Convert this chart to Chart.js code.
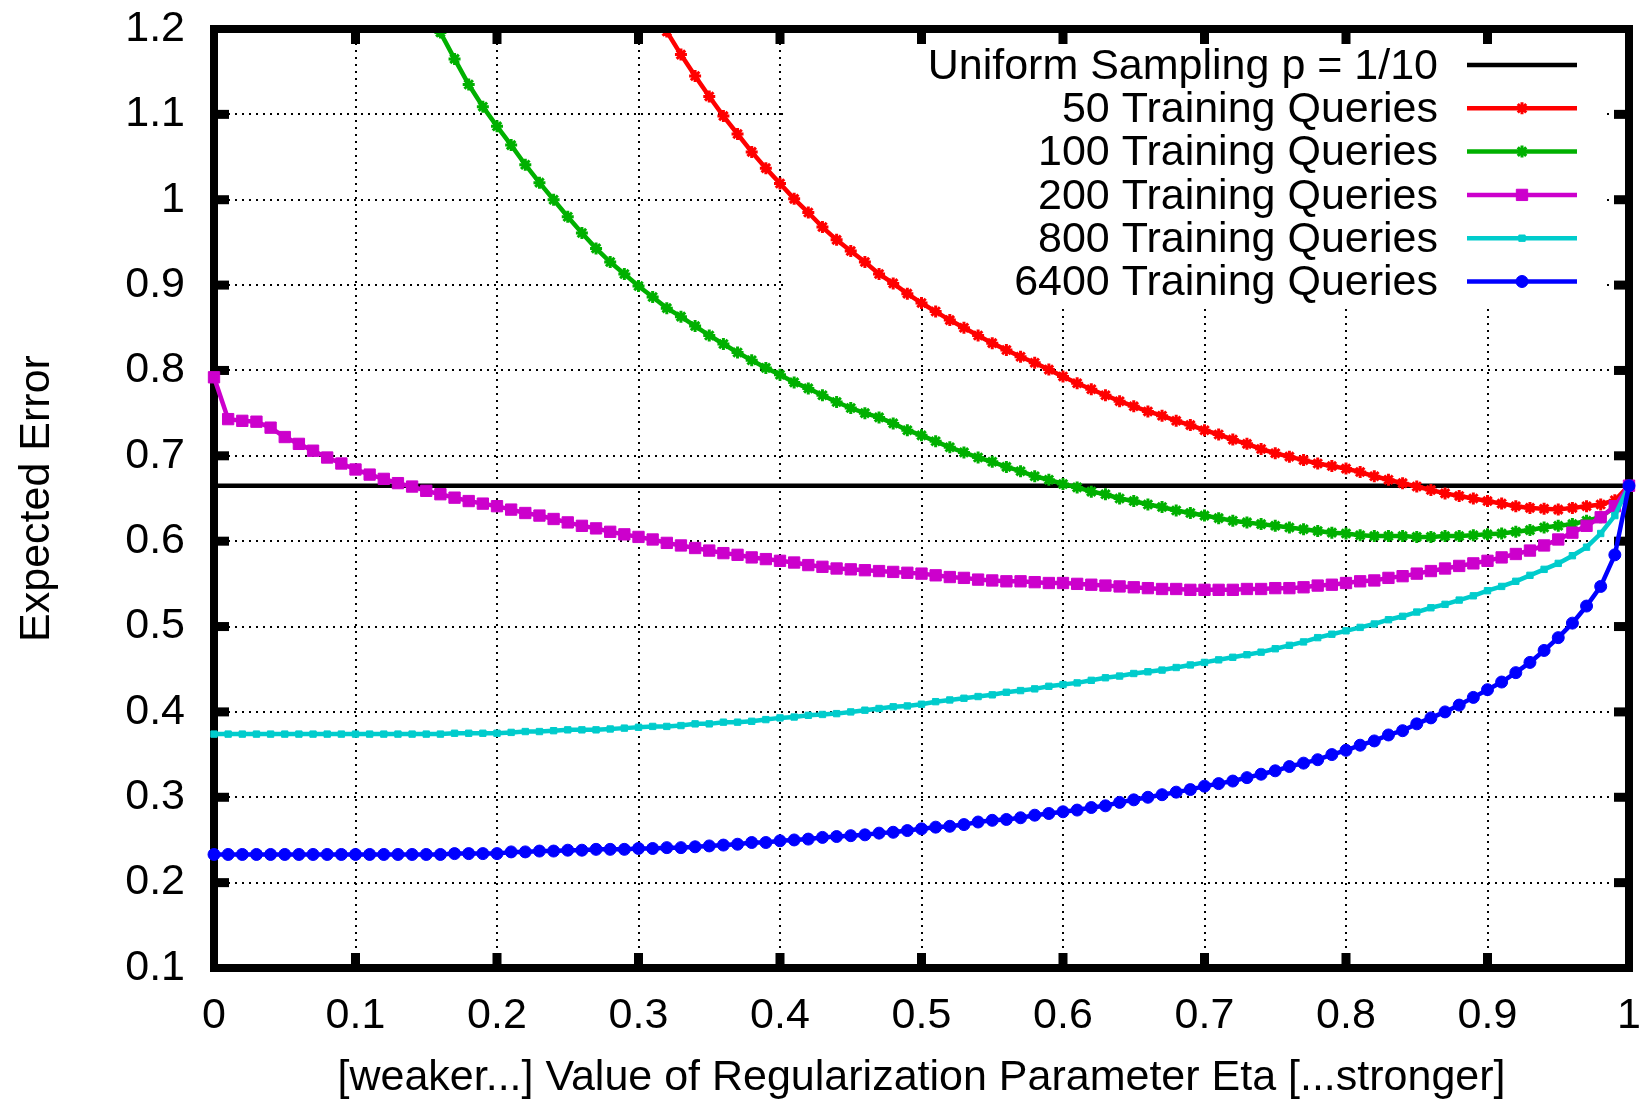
<!DOCTYPE html>
<html>
<head>
<meta charset="utf-8">
<title>Expected Error vs Eta</title>
<script src="https://cdn.jsdelivr.net/npm/chart.js@4.4.0/dist/chart.umd.min.js"></script>
<style>
  html, body { margin: 0; padding: 0; background: #fff; }
  canvas { display: block; }
</style>
</head>
<body>
<canvas id="chart" width="1643" height="1104"></canvas>
<script>
// valores de eta (eixo x), um ponto a cada 0.01
const eta = [
    0.00, 0.01, 0.02, 0.03, 0.04, 0.05, 0.06, 0.07, 0.08, 0.09,
    0.10, 0.11, 0.12, 0.13, 0.14, 0.15, 0.16, 0.17, 0.18, 0.19,
    0.20, 0.21, 0.22, 0.23, 0.24, 0.25, 0.26, 0.27, 0.28, 0.29,
    0.30, 0.31, 0.32, 0.33, 0.34, 0.35, 0.36, 0.37, 0.38, 0.39,
    0.40, 0.41, 0.42, 0.43, 0.44, 0.45, 0.46, 0.47, 0.48, 0.49,
    0.50, 0.51, 0.52, 0.53, 0.54, 0.55, 0.56, 0.57, 0.58, 0.59,
    0.60, 0.61, 0.62, 0.63, 0.64, 0.65, 0.66, 0.67, 0.68, 0.69,
    0.70, 0.71, 0.72, 0.73, 0.74, 0.75, 0.76, 0.77, 0.78, 0.79,
    0.80, 0.81, 0.82, 0.83, 0.84, 0.85, 0.86, 0.87, 0.88, 0.89,
    0.90, 0.91, 0.92, 0.93, 0.94, 0.95, 0.96, 0.97, 0.98, 0.99,
    1.00
];

// linha de referencia (amostragem uniforme)
const uniformEta = [0, 1];
const uniformError = [0.665, 0.665];

const err50 = [
    null, null, null, null, null, null, null, null, null, null,
    null, null, null, null, null, null, null, null, null, null,
    null, null, null, null, null, null, null, null, null, null,
    1.257, 1.226, 1.197, 1.170, 1.145, 1.121, 1.098, 1.077, 1.056, 1.037,
    1.019, 1.001, 0.985, 0.968, 0.953, 0.940, 0.927, 0.913, 0.902, 0.890,
    0.879, 0.869, 0.859, 0.850, 0.841, 0.832, 0.824, 0.816, 0.809, 0.801,
    0.793, 0.785, 0.778, 0.771, 0.764, 0.758, 0.752, 0.747, 0.741, 0.736,
    0.730, 0.725, 0.719, 0.714, 0.708, 0.703, 0.699, 0.695, 0.691, 0.688,
    0.685, 0.681, 0.676, 0.672, 0.668, 0.664, 0.660, 0.656, 0.653, 0.650,
    0.647, 0.644, 0.641, 0.639, 0.638, 0.637, 0.639, 0.641, 0.643, 0.648,
    0.665
];

const err100 = [
    null, null, null, null, null, null, null, null, null, null,
    null, null, null, null, null, 1.230, 1.196, 1.165, 1.135, 1.109,
    1.086, 1.064, 1.041, 1.020, 1.000, 0.980, 0.961, 0.943, 0.927, 0.913,
    0.899, 0.886, 0.873, 0.863, 0.852, 0.841, 0.831, 0.821, 0.812, 0.803,
    0.795, 0.786, 0.779, 0.771, 0.763, 0.756, 0.750, 0.745, 0.738, 0.730,
    0.724, 0.717, 0.710, 0.704, 0.698, 0.693, 0.687, 0.682, 0.676, 0.672,
    0.667, 0.663, 0.658, 0.655, 0.650, 0.647, 0.643, 0.640, 0.636, 0.633,
    0.630, 0.627, 0.624, 0.622, 0.620, 0.618, 0.616, 0.614, 0.612, 0.610,
    0.609, 0.607, 0.606, 0.606, 0.606, 0.605, 0.605, 0.606, 0.606, 0.607,
    0.608, 0.609, 0.611, 0.613, 0.616, 0.618, 0.620, 0.624, 0.628, 0.640,
    0.665
];

const err200 = [
    0.792, 0.743, 0.741, 0.740, 0.733, 0.722, 0.714, 0.706, 0.698, 0.691,
    0.684, 0.678, 0.673, 0.668, 0.664, 0.659, 0.655, 0.651, 0.647, 0.644,
    0.641, 0.637, 0.633, 0.630, 0.626, 0.622, 0.618, 0.615, 0.611, 0.608,
    0.605, 0.602, 0.598, 0.595, 0.592, 0.589, 0.586, 0.584, 0.581, 0.579,
    0.577, 0.575, 0.572, 0.570, 0.568, 0.567, 0.566, 0.565, 0.564, 0.563,
    0.562, 0.560, 0.558, 0.557, 0.555, 0.554, 0.553, 0.553, 0.552, 0.551,
    0.551, 0.550, 0.549, 0.548, 0.547, 0.546, 0.545, 0.544, 0.544, 0.543,
    0.543, 0.543, 0.543, 0.544, 0.544, 0.545, 0.545, 0.546, 0.548, 0.549,
    0.551, 0.553, 0.554, 0.557, 0.559, 0.562, 0.565, 0.568, 0.571, 0.574,
    0.577, 0.581, 0.585, 0.589, 0.595, 0.602, 0.610, 0.618, 0.628, 0.641,
    0.665
];

const err800 = [
    0.374, 0.374, 0.374, 0.374, 0.374, 0.374, 0.374, 0.374, 0.374, 0.374,
    0.374, 0.374, 0.374, 0.374, 0.374, 0.374, 0.374, 0.375, 0.375, 0.375,
    0.375, 0.376, 0.377, 0.377, 0.378, 0.379, 0.379, 0.379, 0.380, 0.381,
    0.382, 0.383, 0.383, 0.384, 0.386, 0.386, 0.388, 0.388, 0.389, 0.391,
    0.393, 0.394, 0.396, 0.397, 0.398, 0.400, 0.402, 0.404, 0.406, 0.407,
    0.409, 0.412, 0.414, 0.416, 0.418, 0.420, 0.423, 0.425, 0.427, 0.430,
    0.432, 0.434, 0.437, 0.440, 0.442, 0.445, 0.447, 0.449, 0.452, 0.455,
    0.458, 0.461, 0.464, 0.467, 0.470, 0.474, 0.478, 0.482, 0.487, 0.491,
    0.495, 0.499, 0.503, 0.508, 0.512, 0.517, 0.522, 0.526, 0.531, 0.536,
    0.542, 0.547, 0.553, 0.560, 0.567, 0.574, 0.583, 0.593, 0.609, 0.630,
    0.665
];

const err6400 = [
    0.233, 0.233, 0.233, 0.233, 0.233, 0.233, 0.233, 0.233, 0.233, 0.233,
    0.233, 0.233, 0.233, 0.233, 0.233, 0.233, 0.233, 0.234, 0.234, 0.234,
    0.234, 0.236, 0.236, 0.237, 0.237, 0.238, 0.238, 0.239, 0.239, 0.239,
    0.240, 0.240, 0.241, 0.241, 0.242, 0.243, 0.244, 0.245, 0.247, 0.247,
    0.249, 0.250, 0.251, 0.253, 0.254, 0.255, 0.256, 0.258, 0.259, 0.261,
    0.263, 0.265, 0.266, 0.268, 0.271, 0.273, 0.274, 0.276, 0.279, 0.281,
    0.283, 0.285, 0.288, 0.290, 0.294, 0.297, 0.300, 0.303, 0.306, 0.309,
    0.313, 0.316, 0.319, 0.323, 0.327, 0.331, 0.336, 0.340, 0.344, 0.350,
    0.355, 0.361, 0.366, 0.373, 0.378, 0.386, 0.393, 0.400, 0.408, 0.417,
    0.426, 0.435, 0.446, 0.458, 0.472, 0.487, 0.504, 0.524, 0.547, 0.584,
    0.665
];

const seriesLabels = [
    'Uniform Sampling p = 1/10',
    '50 Training Queries',
    '100 Training Queries',
    '200 Training Queries',
    '800 Training Queries',
    '6400 Training Queries'
];

const xTickValues = [0, 0.1, 0.2, 0.3, 0.4, 0.5, 0.6, 0.7, 0.8, 0.9, 1];
const xTickLabels = ['0', '0.1', '0.2', '0.3', '0.4', '0.5', '0.6', '0.7', '0.8', '0.9', '1'];
const yTickValues = [0.1, 0.2, 0.3, 0.4, 0.5, 0.6, 0.7, 0.8, 0.9, 1, 1.1, 1.2];
const yTickLabels = ['0.1', '0.2', '0.3', '0.4', '0.5', '0.6', '0.7', '0.8', '0.9', '1', '1.1', '1.2'];

const FONT = "'Liberation Sans', Arial, Helvetica, sans-serif";

// junta x e y em pontos {x, y}
function toPoints(xs, ys) {
    return xs.map((x, i) => ({ x: x, y: ys[i] }));
}

function curve(label, values, color, style, radius, order) {
    return {
        label: label,
        data: toPoints(eta, values),
        borderColor: color,
        backgroundColor: color,
        borderWidth: 4.5,
        pointStyle: style,
        pointRadius: radius,
        pointBackgroundColor: color,
        pointBorderColor: color,
        pointBorderWidth: style === 'star' ? 3 : 1,
        pointHoverRadius: radius,
        tension: 0,
        order: order,
        clip: { left: 8, right: 8, top: -4, bottom: 0 }
    };
}

// tira o espaco extra que o Chart.js reserva para os rotulos nas pontas
function noEdgePadding(scale) {
    scale.paddingTop = 0;
    scale.paddingBottom = 0;
    scale.paddingLeft = 0;
    scale.paddingRight = 0;
}

// moldura estilo gnuplot + legenda opaca
const gnuplotFrame = {
    id: 'gnuplotFrame',
    beforeDatasetsDraw(chart) {
        const { ctx, chartArea: a, scales } = chart;
        const xs = scales.x, ys = scales.y;
        ctx.save();

        // fundo branco da legenda (esconde a grade)
        ctx.fillStyle = '#fff';
        ctx.fillRect(784, a.top + 4, 818, 275);

        // borda grossa
        ctx.strokeStyle = '#000';
        ctx.lineWidth = 8;
        ctx.strokeRect(a.left, a.top, a.right - a.left, a.bottom - a.top);

        // ticks para dentro
        ctx.fillStyle = '#000';
        const tl = 15, tw = 9;
        xTickValues.slice(1, -1).forEach(v => {
            const px = xs.getPixelForValue(v);
            ctx.fillRect(px - tw / 2, a.top, tw, tl);
            ctx.fillRect(px - tw / 2, a.bottom - tl, tw, tl);
        });
        yTickValues.slice(1, -1).forEach(v => {
            const py = ys.getPixelForValue(v);
            ctx.fillRect(a.left, py - tw / 2, tl, tw);
            ctx.fillRect(a.right - tl, py - tw / 2, tl, tw);
        });

        // legenda
        ctx.font = '43px ' + FONT;
        ctx.textAlign = 'right';
        ctx.textBaseline = 'middle';
        chart.data.datasets.forEach((ds, i) => {
            const y = 65 + i * 43.3;
            ctx.fillStyle = '#000';
            ctx.fillText(ds.label, 1438, y + 2);
            ctx.strokeStyle = ds.borderColor;
            ctx.lineWidth = ds.borderWidth;
            ctx.beginPath();
            ctx.moveTo(1467, y);
            ctx.lineTo(1577, y);
            ctx.stroke();
            if (ds.pointRadius > 0) {
                ctx.fillStyle = ds.pointBackgroundColor;
                ctx.strokeStyle = ds.pointBorderColor;
                ctx.lineWidth = ds.pointBorderWidth;
                Chart.helpers.drawPoint(ctx, {
                    pointStyle: ds.pointStyle,
                    radius: ds.pointRadius,
                    rotation: 0,
                    borderWidth: ds.pointBorderWidth
                }, 1522, y);
            }
        });
        ctx.restore();
    }
};

const ctx = document.getElementById('chart').getContext('2d');

new Chart(ctx, {
    type: 'line',
    data: {
        datasets: [
            {
                label: seriesLabels[0],
                data: toPoints(uniformEta, uniformError),
                borderColor: '#000000',
                borderWidth: 4.5,
                pointRadius: 0,
                tension: 0,
                order: 6,
                clip: { left: 0, right: 0, top: 0, bottom: 0 }
            },
            curve(seriesLabels[1], err50, '#ff0000', 'star', 6, 5),
            curve(seriesLabels[2], err100, '#00b000', 'star', 6, 4),
            curve(seriesLabels[3], err200, '#cc00cc', 'rect', 8, 3),
            curve(seriesLabels[4], err800, '#00cccc', 'rect', 4.5, 2),
            curve(seriesLabels[5], err6400, '#0000ff', 'circle', 6, 1)
        ]
    },
    options: {
        responsive: false,
        animation: false,
        devicePixelRatio: 1,
        layout: { padding: { top: 29, right: 14, left: 0, bottom: 0 } },
        plugins: {
            legend: { display: false },
            tooltip: { enabled: false }
        },
        scales: {
            x: {
                type: 'linear',
                min: 0,
                max: 1,
                afterBuildTicks: scale => { scale.ticks = xTickValues.map(v => ({ value: v })); },
                afterFit: scale => { scale.height = 136; noEdgePadding(scale); },
                ticks: {
                    callback: (v, i) => xTickLabels[i],
                    font: { family: FONT, size: 43 },
                    color: '#000',
                    padding: 22,
                    maxRotation: 0
                },
                grid: { color: '#000', lineWidth: 2, drawTicks: false },
                border: { display: false, dash: [2, 5] },
                title: {
                    display: true,
                    text: '[weaker...] Value of Regularization Parameter Eta [...stronger]',
                    font: { family: FONT, size: 43 },
                    color: '#000',
                    padding: { top: 0, bottom: 0 }
                }
            },
            y: {
                type: 'linear',
                min: 0.1,
                max: 1.2,
                afterBuildTicks: scale => { scale.ticks = yTickValues.map(v => ({ value: v })); },
                afterFit: scale => { scale.width = 214; noEdgePadding(scale); },
                ticks: {
                    callback: (v, i) => yTickLabels[i],
                    font: { family: FONT, size: 43 },
                    color: '#000',
                    padding: 29
                },
                grid: { color: '#000', lineWidth: 2, drawTicks: false },
                border: { display: false, dash: [2, 5] },
                title: {
                    display: true,
                    text: 'Expected Error',
                    font: { family: FONT, size: 43 },
                    color: '#000',
                    padding: { top: 11, bottom: 0 }
                }
            }
        }
    },
    plugins: [gnuplotFrame]
});
</script>
</body>
</html>
